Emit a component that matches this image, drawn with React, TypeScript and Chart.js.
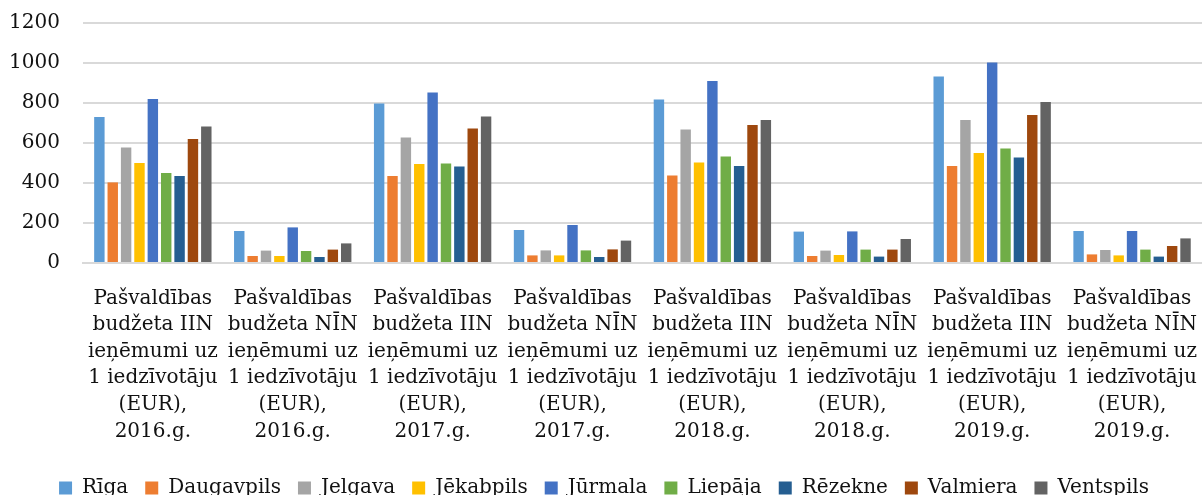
import React, { useEffect, useRef } from "react";
import { Chart, registerables } from "chart.js";

Chart.register(...registerables);

const categories: string[][] = [
  ["Pašvaldības", "budžeta IIN", "ieņēmumi uz", "1 iedzīvotāju", "(EUR),", "2016.g."],
  ["Pašvaldības", "budžeta NĪN", "ieņēmumi uz", "1 iedzīvotāju", "(EUR),", "2016.g."],
  ["Pašvaldības", "budžeta IIN", "ieņēmumi uz", "1 iedzīvotāju", "(EUR),", "2017.g."],
  ["Pašvaldības", "budžeta NĪN", "ieņēmumi uz", "1 iedzīvotāju", "(EUR),", "2017.g."],
  ["Pašvaldības", "budžeta IIN", "ieņēmumi uz", "1 iedzīvotāju", "(EUR),", "2018.g."],
  ["Pašvaldības", "budžeta NĪN", "ieņēmumi uz", "1 iedzīvotāju", "(EUR),", "2018.g."],
  ["Pašvaldības", "budžeta IIN", "ieņēmumi uz", "1 iedzīvotāju", "(EUR),", "2019.g."],
  ["Pašvaldības", "budžeta NĪN", "ieņēmumi uz", "1 iedzīvotāju", "(EUR),", "2019.g."],
];

const riga = [730, 160, 797, 165, 818, 157, 932, 160];
const daugavpils = [403, 35, 435, 38, 438, 35, 485, 43];
const jelgava = [577, 62, 628, 63, 668, 62, 715, 65];
const jekabpils = [500, 35, 495, 38, 503, 40, 550, 38];
const jurmala = [820, 178, 852, 190, 910, 158, 1003, 160];
const liepaja = [450, 60, 498, 63, 533, 67, 572, 67];
const rezekne = [435, 30, 483, 30, 485, 32, 528, 32];
const valmiera = [620, 67, 673, 68, 690, 67, 740, 85];
const ventspils = [683, 98, 733, 112, 715, 120, 805, 123];

const seriesNames = ["Rīga", "Daugavpils", "Jelgava", "Jēkabpils", "Jūrmala", "Liepāja", "Rēzekne", "Valmiera", "Ventspils"];
const seriesValues = [riga, daugavpils, jelgava, jekabpils, jurmala, liepaja, rezekne, valmiera, ventspils];
const seriesColors = ["#5B9BD5", "#ED7D31", "#A5A5A5", "#FFC000", "#4472C4", "#70AD47", "#255E91", "#9E480E", "#636363"];

const FONT = "'DejaVu Serif', serif";
const TEXT = "#111111";

export default function App() {
  const ref = useRef<HTMLCanvasElement>(null);
  useEffect(() => {
    if (!ref.current) return;
    const chart = new Chart(ref.current, {
      type: "bar",
      data: {
        labels: categories,
        datasets: seriesNames.map((name, i) => ({
          label: name,
          data: seriesValues[i],
          backgroundColor: seriesColors[i],
          borderWidth: 0,
          categoryPercentage: 0.86,
          barPercentage: 0.78,
        })),
      },
      options: {
        animation: false,
        responsive: true,
        maintainAspectRatio: false,
        layout: { padding: { left: 6, right: 0, top: 23, bottom: 0 } },
        plugins: {
          legend: {
            position: "bottom",
            labels: {
              boxWidth: 13,
              boxHeight: 13,
              padding: 17,
              color: TEXT,
              font: { family: FONT, size: 20 },
            },
          },
          tooltip: { enabled: false },
        },
        scales: {
          x: {
            grid: {
              display: true,
              drawOnChartArea: false,
              drawTicks: true,
              tickLength: 19,
              tickColor: "rgba(0,0,0,0)",
            },
            border: { color: "#d9d9d9", width: 2 },
            afterFit: (scale: any) => {
              scale.height = 198;
            },
            ticks: {
              autoSkip: false,
              maxRotation: 0,
              minRotation: 0,
              padding: 3,
              color: TEXT,
              font: { family: FONT, size: 20, lineHeight: 1.33 },
            },
          },
          y: {
            min: 0,
            max: 1200,
            grid: {
              color: "#d9d9d9",
              lineWidth: 2,
              drawTicks: true,
              tickLength: 20,
              tickColor: "rgba(0,0,0,0)",
            },
            border: { display: false },
            ticks: {
              stepSize: 200,
              padding: 3,
              color: TEXT,
              font: { family: FONT, size: 20 },
              callback: (v: any) => String(v),
            },
          },
        },
      },
    });
    return () => chart.destroy();
  }, []);
  return (
    <div style={{ position: "fixed", left: 0, top: 0, width: 1202, height: 495, overflow: "hidden", background: "#fff" }}>
      <div style={{ position: "relative", width: 1202, height: 508 }}>
        <canvas ref={ref} style={{ display: "block" }} />
      </div>
    </div>
  );
}
